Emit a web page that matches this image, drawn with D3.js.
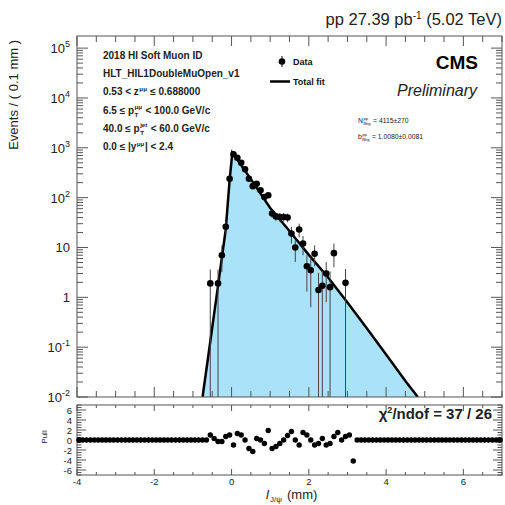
<!DOCTYPE html>
<html><head><meta charset="utf-8">
<script src="https://cdn.jsdelivr.net/npm/d3@7"></script>
<style>
html,body{margin:0;padding:0;background:#fff;}
svg text{font-family:"Liberation Sans",Arial,Helvetica,sans-serif;white-space:pre;}
</style></head>
<body><svg id="c" width="505" height="505"></svg>
<script>
// ---- data ----
const dataX = [-0.55,-0.35,-0.25,-0.15,-0.05,0.05,0.15,0.25,0.35,0.45,0.55,0.65,0.75,0.85,0.95,1.05,1.15,1.25,1.35,1.45,1.55,1.65,1.75,1.85,1.95,2.05,2.15,2.25,2.35,2.45,2.55,2.65,2.95];
const dataY = [1.9,1.9,7,26,240,740,630,500,370,240,170,190,140,103,112,48,42,41,41,40,19,10,23,12,4.2,3.5,7.5,1.4,1.7,3.0,1.6,7.7,1.95];
const dataLo = [0.001,0.001,3.2,18,215,700,595,470,345,220,153,172,125,90,99,39,34,33,33,32,12,5.1,16,7,1.3,0.63,4.2,0.001,0.001,0.8,0.001,4,0.001];
const dataHi = [3.6,3.6,11,34,265,780,665,530,395,260,187,208,155,116,125,57,50,49,49,48,26,14,30,17,7,6.3,11,3.1,3.4,5.1,3.3,12,3.7];

const fitX = [-0.75,-0.55,-0.35,-0.25,-0.15,-0.05,0.02,0.5,1.0,1.5,2.0,2.5,3.0,3.5,4.0,4.5,4.82];
const fitY = [0.01,0.13,1.7,6.3,23,224,800,235,62,21.4,7.1,2.5,0.79,0.24,0.071,0.021,0.01];

const binWidth = 0.1;
const pullX = [-0.55,-0.45,-0.35,-0.25,-0.15,-0.05,0.05,0.15,0.25,0.35,0.45,0.55,0.65,0.75,0.85,0.95,1.05,1.15,1.25,1.35,1.45,1.55,1.65,1.75,1.85,1.95,2.05,2.15,2.25,2.35,2.45,2.55,2.65,2.75,2.85,2.95,3.05,3.15];
const pullY = [1.0,0.3,-0.3,-0.3,0.7,1.0,-1.0,1.3,1.0,0,-1.7,-2.3,0.3,0,-0.7,1.9,-1.7,-1.3,-0.7,0,0.9,1.7,0,-1,1.5,1,0,-1,-0.7,0.3,-1,-0.7,0.7,1.5,0,0.7,1.0,-4.2];

const xTicks = [-4,-2,0,2,4,6];
const yTicksMain = [1e-2,1e-1,1,10,1e2,1e3,1e4,1e5];
const yTickLabels = [["10","-2"],["10","-1"],["1",""],["10",""],["10","2"],["10","3"],["10","4"],["10","5"]];
const pullTicks = [-6,-4,-2,0,2,4,6];

const infoLines = [
  [["2018 HI Soft Muon ID"]],
  [["HLT_HIL1DoubleMuOpen_v1"]],
  [["0.53 < z"],["μμ",""],[" ≤ 0.688000"]],
  [["6.5 ≤ p"],["μμ","T"],[" < 100.0 GeV/c"]],
  [["40.0 ≤ p"],["jet","T"],[" < 60.0 GeV/c"]],
  [["0.0 ≤ |y"],["μμ",""],["| < 2.4"]]
];

// ---- layout ----
const svg = d3.select("#c");
const L=77, R=502, T=36, B=397, PT=405, PB=475;
const x = d3.scaleLinear().domain([-4,7]).range([L,R]);
const y = d3.scaleLog().domain([0.01,1.75e5]).range([B,T]);
const yp = d3.scaleLinear().domain([-7,7]).range([PB,PT]);
const axisCol = "#555";

svg.append("defs").append("clipPath").attr("id","clipMain")
  .append("rect").attr("x",L).attr("y",T).attr("width",R-L).attr("height",B-T);

// fill + fit
const gMain = svg.append("g").attr("clip-path","url(#clipMain)");
const fitPts = fitX.map((d,i)=>[d,fitY[i]]);
gMain.append("path").datum(fitPts)
  .attr("d", d3.area().x(d=>x(d[0])).y0(B).y1(d=>y(d[1])))
  .attr("fill","#aae2fa");
gMain.append("path").datum(fitPts)
  .attr("d", d3.line().x(d=>x(d[0])).y(d=>y(d[1])))
  .attr("fill","none").attr("stroke","#000").attr("stroke-width",2.5);

// data
const dat = dataX.map((d,i)=>({x:d,y:dataY[i],lo:dataLo[i],hi:dataHi[i]}));
gMain.selectAll("line.err").data(dat).join("line").attr("class","err")
  .attr("x1",d=>x(d.x)).attr("x2",d=>x(d.x))
  .attr("y1",d=>y(Math.max(d.lo,0.005))).attr("y2",d=>y(d.hi))
  .attr("stroke","#444").attr("stroke-width",1);
gMain.selectAll("circle.pt").data(dat).join("circle").attr("class","pt")
  .attr("cx",d=>x(d.x)).attr("cy",d=>y(d.y)).attr("r",3.3).attr("fill","#000");

// frames
svg.append("rect").attr("x",L).attr("y",T).attr("width",R-L).attr("height",B-T)
  .attr("fill","none").attr("stroke",axisCol).attr("stroke-width",1);
svg.append("rect").attr("x",L).attr("y",PT).attr("width",R-L).attr("height",PB-PT)
  .attr("fill","none").attr("stroke",axisCol).attr("stroke-width",1);

function tick(x1,y1,x2,y2){
  svg.append("line").attr("x1",x1).attr("y1",y1).attr("x2",x2).attr("y2",y2)
    .attr("stroke",axisCol).attr("stroke-width",1);
}
// x ticks (main + pull)
const xMinor = d3.range(-4,7.001,0.5);
xMinor.forEach(v=>{
  const major = xTicks.includes(v);
  const X = x(v);
  const lm = major?10:6, lp = major?6:3;
  tick(X,B,X,B-lm); tick(X,T,X,T+lm);
  tick(X,PB,X,PB-lp); tick(X,PT,X,PT+lp);
});
// y log ticks main
for (let e=-2;e<=5;e++){
  for (let m=1;m<=9;m++){
    const v = m*Math.pow(10,e);
    if (v>y.domain()[1]) continue;
    const Y=y(v); const len = m===1?11:6;
    tick(L,Y,L+len,Y); tick(R,Y,R-len,Y);
  }
}
// pull y ticks
d3.range(-7,7.001,0.5).forEach(v=>{
  const major = Math.abs(v%2)===0;
  const Y=yp(v); const len = major?9:4.5;
  tick(L,Y,L+len,Y); tick(R,Y,R-len,Y);
});

// y tick labels main
yTicksMain.forEach((v,i)=>{
  const t = svg.append("text").attr("x",70).attr("y",y(v)+5)
    .attr("text-anchor","end").attr("font-size",13).attr("fill","#222");
  const [b,s]=yTickLabels[i];
  t.append("tspan").text(b);
  if (s) t.append("tspan").attr("dy",-6).attr("font-size",9).text(s);
});
// pull labels
pullTicks.forEach(v=>{
  svg.append("text").attr("x",72).attr("y",yp(v)+3.5).attr("text-anchor","end")
    .attr("font-size",9.5).attr("fill","#222").text(v);
});
xTicks.forEach(v=>{
  svg.append("text").attr("x",x(v)).attr("y",485).attr("text-anchor","middle")
    .attr("font-size",9.5).attr("fill","#222").text(v);
});

// pulls
const zeroBins = d3.range(-3.95,6.96,binWidth).filter(c=>c<pullX[0]-0.05||c>pullX[pullX.length-1]+0.05);
const pulls = zeroBins.map(c=>({x:c,p:0})).concat(pullX.map((c,i)=>({x:c,p:pullY[i]})));
svg.append("g").selectAll("circle").data(pulls).join("circle")
  .attr("cx",d=>x(d.x)).attr("cy",d=>yp(d.p)).attr("r",2.7).attr("fill","#000");

// titles
svg.append("text").attr("x",502).attr("y",25).attr("text-anchor","end").attr("font-size",16.5).attr("fill","#222")
  .call(t=>{t.append("tspan").text("pp 27.39 pb");t.append("tspan").attr("dy",-6).attr("font-size",10).text("-1");
    t.append("tspan").attr("dy",6).text(" (5.02 TeV)");});
svg.append("text").attr("transform","translate(18,40) rotate(-90)").attr("text-anchor","end")
  .attr("font-size",13).attr("fill","#222").text("Events / ( 0.1 mm )");
svg.append("text").attr("transform","translate(47,437) rotate(-90)").attr("text-anchor","middle")
  .attr("font-size",8).attr("fill","#222").text("Pull");

// rich text helper: parts [text] or [sup, sub]
function measure(str, size, weight){
  const t = svg.append("text").attr("font-size",size).attr("font-weight",weight||"normal").text(str);
  const w = t.node().getComputedTextLength(); t.remove(); return w;
}
function rich(x0, y0, parts, size, weight, col){
  let cx = x0;
  const small = size*0.62;
  parts.forEach(p=>{
    if (p.length===1){
      svg.append("text").attr("x",cx).attr("y",y0).attr("font-size",size).attr("font-weight",weight)
        .attr("fill",col).text(p[0]);
      cx += measure(p[0],size,weight);
    } else {
      const [sup,sub]=p;
      let w=0;
      if (sup){ svg.append("text").attr("x",cx+0.5).attr("y",y0-size*0.45).attr("font-size",small)
        .attr("font-weight",weight).attr("fill",col).text(sup); w=Math.max(w,measure(sup,small,weight)); }
      if (sub){ svg.append("text").attr("x",cx+0.5).attr("y",y0+size*0.3).attr("font-size",small)
        .attr("font-weight",weight).attr("fill",col).text(sub); w=Math.max(w,measure(sub,small,weight)); }
      cx += w+1;
    }
  });
}

// x axis title
svg.append("text").attr("x",266).attr("y",499).attr("font-size",13).attr("font-style","italic").attr("fill","#222").text("l");
svg.append("text").attr("x",270).attr("y",502).attr("font-size",8).attr("fill","#222").text("J/ψ");
svg.append("text").attr("x",287).attr("y",499).attr("font-size",13).attr("fill","#222").text("(mm)");

// info text
infoLines.forEach((line,i)=> rich(103, 59+i*18.2, line, 10, "bold", "#222"));

// legend
svg.append("line").attr("x1",282).attr("x2",282).attr("y1",56).attr("y2",67).attr("stroke","#000");
svg.append("circle").attr("cx",282).attr("cy",61.5).attr("r",3.3).attr("fill","#000");
svg.append("text").attr("x",293).attr("y",65).attr("font-size",9).attr("font-weight","bold").attr("fill","#111").text("Data");
svg.append("line").attr("x1",270).attr("x2",290).attr("y1",81.5).attr("y2",81.5).attr("stroke","#000").attr("stroke-width",2.5);
svg.append("text").attr("x",293).attr("y",85).attr("font-size",9).attr("font-weight","bold").attr("fill","#111").text("Total fit");

// CMS
svg.append("text").attr("x",478).attr("y",69).attr("text-anchor","end").attr("font-size",19).attr("font-weight","bold").attr("fill","#000").text("CMS");
svg.append("text").attr("x",477).attr("y",96).attr("text-anchor","end").attr("font-size",16).attr("font-style","italic").attr("fill","#222").text("Preliminary");

// fit parameters
rich(358, 123, [["N"],["pp","Bkg"],[" = 4115±270"]], 6.8, "normal", "#222");
rich(358, 139, [["b"],["pp","Bkg"],[" = 1.0080±0.0081"]], 6.8, "normal", "#222");

// chi2
svg.append("text").attr("x",492).attr("y",419).attr("text-anchor","end").attr("font-size",15).attr("font-weight","bold").attr("fill","#222")
  .call(t=>{t.append("tspan").text("χ");t.append("tspan").attr("dy",-6).attr("font-size",9).text("2");
    t.append("tspan").attr("dy",6).text("/ndof = 37 / 26");});
</script></body></html>
